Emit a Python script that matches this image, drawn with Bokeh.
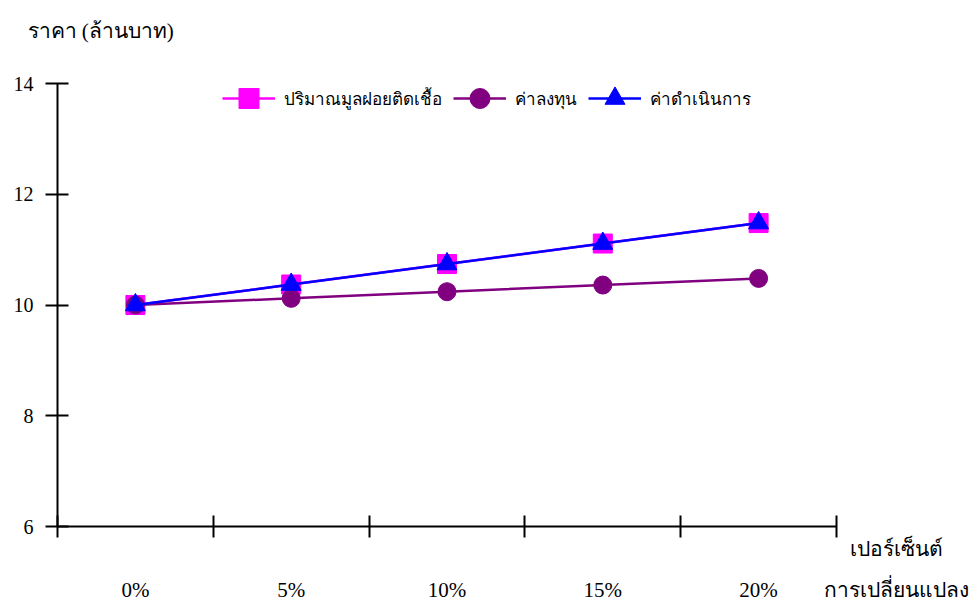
from bokeh.plotting import figure
from bokeh.models import FixedTicker, Label, LinearAxis
from bokeh.embed import file_html
from bokeh.resources import INLINE

# Price (million baht) against percentage change
categories = ["0%", "5%", "10%", "15%", "20%"]
waste_volume = [10.0, 10.37, 10.74, 11.11, 11.48]
investment = [10.0, 10.12, 10.24, 10.36, 10.48]
operating = [10.0, 10.37, 10.74, 11.11, 11.48]
y_ticks = [6, 8, 10, 12, 14]

series_names = ["ปริมาณมูลฝอยติดเชื้อ", "ค่าลงทุน", "ค่าดำเนินการ"]
y_title = "ราคา (ล้านบาท)"
x_title = ["เปอร์เซ็นต์", "การเปลี่ยนแปลง"]

FONT = "'Liberation Serif', 'Times New Roman', serif"

# page and axes box, in pixels
W, H = 969, 601
LEFT, RIGHT, TOP, BOTTOM = 57, 836, 83, 526

xs = list(range(len(categories)))
boundaries = [i - 0.5 for i in range(len(categories) + 1)]
x_lo, x_hi = -0.5, len(categories) - 0.5
y_lo, y_hi = y_ticks[0], y_ticks[-1]

# the frame covers the whole page; the axes sit at fixed positions inside it
ux = (x_hi - x_lo) / (RIGHT - LEFT)
uy = (y_hi - y_lo) / (BOTTOM - TOP)
p = figure(
    width=W, height=H,
    x_range=(x_lo - LEFT * ux, x_hi + (W - RIGHT) * ux),
    y_range=(y_lo - (H - BOTTOM) * uy, y_hi + TOP * uy),
    output_backend="svg", toolbar_location=None,
    min_border=0, x_axis_type=None, y_axis_type=None,
)
p.outline_line_color = None
p.xgrid.visible = False
p.ygrid.visible = False
p.background_fill_color = "white"

# y axis: ticks crossing the axis line
yax = LinearAxis(ticker=FixedTicker(ticks=y_ticks), fixed_location=x_lo, bounds=(y_lo, y_hi))
yax.axis_line_width = 2
yax.axis_line_color = "black"
yax.major_tick_in = 11
yax.major_tick_out = 12
yax.major_tick_line_width = 2
yax.major_tick_line_color = "black"
yax.minor_tick_line_color = None
yax.major_label_text_font = FONT
yax.major_label_text_font_size = "20px"
yax.major_label_text_color = "black"
yax.major_label_standoff = 12
p.add_layout(yax, "left")

# x axis: category labels centred between boundary ticks
xax = LinearAxis(ticker=FixedTicker(ticks=xs, minor_ticks=boundaries),
                 fixed_location=y_lo, bounds=(x_lo, x_hi))
xax.axis_line_width = 2
xax.axis_line_color = "black"
xax.major_tick_in = 0
xax.major_tick_out = 0
xax.minor_tick_in = 11
xax.minor_tick_out = 11
xax.minor_tick_line_width = 2
xax.minor_tick_line_color = "black"
xax.major_label_overrides = {i: c for i, c in enumerate(categories)}
xax.major_label_text_font = FONT
xax.major_label_text_font_size = "21px"
xax.major_label_text_color = "black"
xax.major_label_standoff = 40
p.add_layout(xax, "below")

# series
p.line(xs, waste_volume, line_color="#FF00FF", line_width=2.5, legend_label=series_names[0])
p.scatter(xs, waste_volume, marker="square", size=19, fill_color="#FF00FF",
          line_color="#FF00FF", legend_label=series_names[0])

p.line(xs, investment, line_color="#800080", line_width=2.5, legend_label=series_names[1])
p.scatter(xs, investment, marker="circle", size=18, fill_color="#800080",
          line_color="#800080", legend_label=series_names[1])

p.line(xs, operating, line_color="#0000FF", line_width=2.5, legend_label=series_names[2])
p.scatter(xs, operating, marker="triangle", size=20, fill_color="#0000FF",
          line_color="#0000FF", legend_label=series_names[2])

lg = p.legend[0]
lg.orientation = "horizontal"
lg.location = (222, H - 123)
lg.margin = 0
lg.padding = 0
lg.spacing = 11
lg.glyph_width = 53
lg.glyph_height = 50
lg.label_standoff = 9
lg.label_height = 50
lg.border_line_color = None
lg.background_fill_alpha = 0
lg.label_text_font = FONT
lg.label_text_font_size = "17px"
lg.label_text_color = "black"

# axis titles, placed in canvas pixels
p.add_layout(Label(x=27, y=30, x_units="canvas", y_units="canvas",
                   text=y_title, text_font=FONT, text_font_size="21px",
                   text_align="left", text_baseline="middle", text_color="black"))
for line_text, ypos in zip(x_title, [548, 589]):
    p.add_layout(Label(x=896, y=ypos, x_units="canvas", y_units="canvas",
                       text=line_text, text_font=FONT, text_font_size="21px",
                       text_align="center", text_baseline="middle", text_color="black"))

open("out.html", "w").write(file_html(p, INLINE))
